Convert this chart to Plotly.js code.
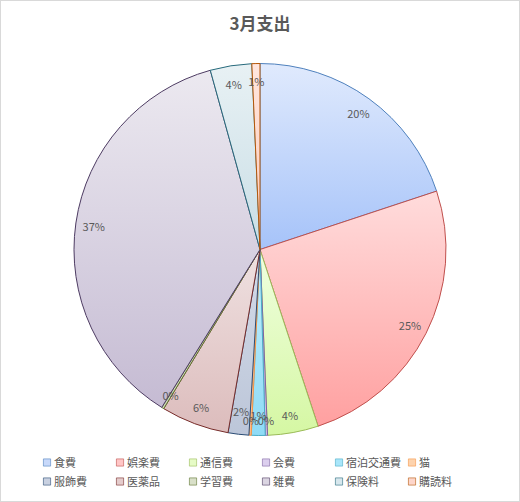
<!DOCTYPE html>
<html>
<head>
<meta charset="utf-8">
<script src="https://cdn.plot.ly/plotly-3.0.1.min.js"></script>
<style>
  html, body { margin: 0; padding: 0; background: #ffffff; }
  #chart { width: 520px; height: 502px; box-sizing: border-box; border: 1px solid #d9d9d9; }
  #chart path.legendpie { transform: translate(33px, 0px) scale(0.6); }
  #gradDefs { position: absolute; width: 0; height: 0; overflow: hidden; }
</style>
</head>
<body>
<svg id="gradDefs" xmlns="http://www.w3.org/2000/svg"><defs id="gradDefsInner"></defs></svg>
<div id="chart"></div>
<script>
const categories = ['食費', '娯楽費', '通信費', '会費', '宿泊交通費', '猫', '服飾費', '医薬品', '学習費', '雑費', '保険料', '購読料'];
const values = [19.9, 25.0, 4.4, 0.2, 1.2, 0.2, 1.8, 5.9, 0.2, 36.8, 3.6, 0.7];
const fillColors = ['#c8d9fa', '#ffc6c6', '#e6fbc6', '#dccfee', '#a9e6fa', '#fdd3ae', '#c9d1e1', '#e4cccc', '#d9e0c9', '#dbd5e2', '#d7e7ed', '#fdd6cb'];
const topColors = ['#e0eafd', '#ffdcdc', '#f0ffe0', '#e8def5', '#c4effd', '#fee2cc', '#d4dbe8', '#efe1e1', '#e6ecd8', '#ece9f0', '#e8f1f4', '#ffe6de'];
const bottomColors = ['#a6c3f9', '#ffa0a0', '#d5f7a3', '#cbb9e3', '#8fdbf6', '#fbba8a', '#bcc6d9', '#dcbcbc', '#c9d4b1', '#c5bbd3', '#c9dee6', '#fcc9b8'];
const lineColors = ['#4f81bd', '#c0504d', '#9bbb59', '#8064a2', '#4bacc6', '#f79646', '#2c4d75', '#772c2a', '#5f7530', '#4d3b62', '#276a7c', '#b65708'];
const title = '3月支出';

const FONT = '"Noto Sans CJK JP", "Noto Sans", sans-serif';
const pieDomain = { x: [0.1594, 0.9716], y: [0.131, 0.875] };
const smallLabelDomain = { x: [0.19, 0.941], y: [0.159, 0.847] };

// vertical gradient fills for the slices (Excel-style)
(function buildGradients() {
  const NS = 'http://www.w3.org/2000/svg';
  const defs = document.getElementById('gradDefsInner');
  let css = '';
  categories.forEach((c, i) => {
    const g = document.createElementNS(NS, 'linearGradient');
    g.setAttribute('id', 'sliceGrad' + i);
    g.setAttribute('x1', '0'); g.setAttribute('y1', '0');
    g.setAttribute('x2', '0'); g.setAttribute('y2', '1');
    [[0, topColors[i]], [1, bottomColors[i]]].forEach(([o, col]) => {
      const s = document.createElementNS(NS, 'stop');
      s.setAttribute('offset', String(o));
      s.setAttribute('stop-color', col);
      g.appendChild(s);
    });
    defs.appendChild(g);
    css += '#chart .pielayer > g.trace:nth-child(1) > g.slice:nth-child(' + (i + 1) + ') > path.surface { fill: url(#sliceGrad' + i + ') !important; }\n';
  });
  const st = document.createElement('style');
  st.textContent = css;
  document.head.appendChild(st);
})();

const total = values.reduce((a, b) => a + b, 0);
const isLarge = values.map(v => v / total >= 0.025);
const PCT = '%{percent:.0%}';

const pie = {
  type: 'pie',
  labels: categories,
  values: values,
  sort: false,
  direction: 'clockwise',
  rotation: 0,
  domain: pieDomain,
  marker: { colors: fillColors, line: { color: lineColors, width: 1 } },
  textinfo: 'none',
  hoverinfo: 'label+percent',
  showlegend: true
};

function labelRing(domain, hole, show) {
  return {
    type: 'pie',
    labels: categories,
    values: values,
    sort: false,
    direction: 'clockwise',
    rotation: 0,
    domain: domain,
    hole: hole,
    marker: { colors: categories.map(() => 'rgba(0,0,0,0)'), line: { width: 0 } },
    texttemplate: show.map(s => s ? PCT : ''),
    textposition: 'inside',
    insidetextorientation: 'horizontal',
    insidetextfont: { family: FONT, size: 11, color: '#595959' },
    hoverinfo: 'skip',
    showlegend: false
  };
}

const largeLabels = labelRing(pieDomain, 0.806, isLarge);
const smallLabels = labelRing(smallLabelDomain, 0.5, isLarge.map(b => !b));

const layout = {
  width: 518,
  height: 500,
  margin: { l: 0, r: 60, t: 0, b: 0 },
  paper_bgcolor: '#ffffff',
  plot_bgcolor: '#ffffff',
  font: { family: FONT, color: '#595959' },
  title: {
    text: '<b>' + title + '</b>',
    font: { family: FONT, size: 17, color: '#595959' },
    x: 0.5, xanchor: 'center',
    y: 0.954, yref: 'container', yanchor: 'middle'
  },
  uniformtext: { mode: 'show', minsize: 11 },
  legend: {
    orientation: 'h',
    x: 0.0284, xanchor: 'left',
    y: 0.106, yanchor: 'top',
    font: { family: FONT, size: 11, color: '#595959' },
    entrywidth: 28,
    entrywidthmode: 'pixels',
    traceorder: 'normal',
    itemwidth: 30
  }
};

Plotly.newPlot('chart', [pie, largeLabels, smallLabels], layout, { displayModeBar: false, staticPlot: true });
</script>
</body>
</html>
